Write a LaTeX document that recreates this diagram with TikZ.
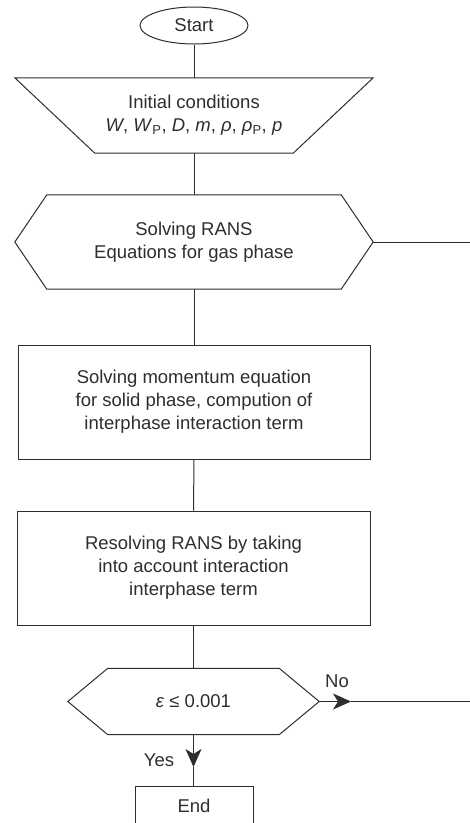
\documentclass[tikz,border=0pt]{standalone}
\usepackage{fontspec}
\setmainfont{Liberation Sans}
\usetikzlibrary{shapes.geometric,arrows.meta,calc}
\definecolor{ink}{HTML}{2E2E2E}
\tikzset{
  every node/.style={text=ink, font=\fontsize{18.5}{23}\selectfont},
  shapebox/.style={rectangle, inner sep=0pt, align=center},
  outline/.style={draw=ink, line width=1pt},
  conn/.style={draw=ink, line width=1pt},
  tipped/.style={-{Stealth[length=18pt,width=16pt,inset=5pt]}}
}
\begin{document}
\begin{tikzpicture}[x=1pt,y=-1pt]
\useasboundingbox (0,0) rectangle (470,823);
\clip (0,0) rectangle (470,823);
\fill[white] (0,0) rectangle (470,823);

\node[ellipse, outline, inner sep=0pt, minimum width=108pt, minimum height=37pt] (start) at (194,25.5) {Start};

\node[shapebox, minimum width=358pt, minimum height=75pt] (init) at (194,115.5)
  {Initial conditions\\ \textit{W}, \textit{W}\textsubscript{P}, \textit{D}, \textit{m}, \textit{ρ}, \textit{ρ}\textsubscript{P}, \textit{p}};
\draw[outline] (init.north west) -- (init.north east) -- ($(init.south east)+(-80,0)$) -- ($(init.south west)+(80,0)$) -- cycle;

\node[shapebox, minimum width=358pt, minimum height=94pt] (h1) at (194,242)
  {Solving RANS\\Equations for gas phase};
\draw[outline] (h1.west) -- ($(h1.north west)+(32,0)$) -- ($(h1.north east)+(-32,0)$) -- (h1.east)
  -- ($(h1.south east)+(-32,0)$) -- ($(h1.south west)+(32,0)$) -- cycle;

\node[shapebox, outline, minimum width=352pt, minimum height=114pt] (r2) at (194,402)
  {Solving momentum equation\\for solid phase, compution of\\interphase interaction term};

\node[shapebox, outline, minimum width=353pt, minimum height=114pt] (r3) at (193.5,568)
  {Resolving RANS by taking\\into account interaction\\interphase term};

\node[shapebox, minimum width=251pt, minimum height=66pt] (h2) at (193.5,701.5)
  {\textit{ε} ≤ 0.001};
\draw[outline] (h2.west) -- ($(h2.north west)+(40,0)$) -- ($(h2.north east)+(-40,0)$) -- (h2.east)
  -- ($(h2.south east)+(-40,0)$) -- ($(h2.south west)+(40,0)$) -- cycle;

\node[shapebox, outline, minimum width=118pt, minimum height=40pt] (end) at (194,806) {End};

\draw[conn] (start.south) -- (init.north);
\draw[conn] (init.south) -- (h1.north);
\draw[conn] (h1.south) -- (r2.north);
\draw[conn] (r2.south) -- (r3.north);
\draw[conn] (r3.south) -- (h2.north);

\coordinate (loopend) at (470,242);
\draw[conn] (h1.east) -- (loopend);

\coordinate (yestip) at (193.5,767);
\draw[conn,tipped] (h2.south) -- (yestip);
\draw[conn] (yestip) -- (end.north -| yestip);

\coordinate (notip) at (351,701.5);
\coordinate (noend) at (470,701.5);
\draw[conn,tipped] (h2.east) -- (notip);
\draw[conn] (notip) -- (noend);

\node (nolabel) at (337,681) {No};
\node[anchor=base] (yeslabel) at (159,766) {Yes};
\end{tikzpicture}
\end{document}
